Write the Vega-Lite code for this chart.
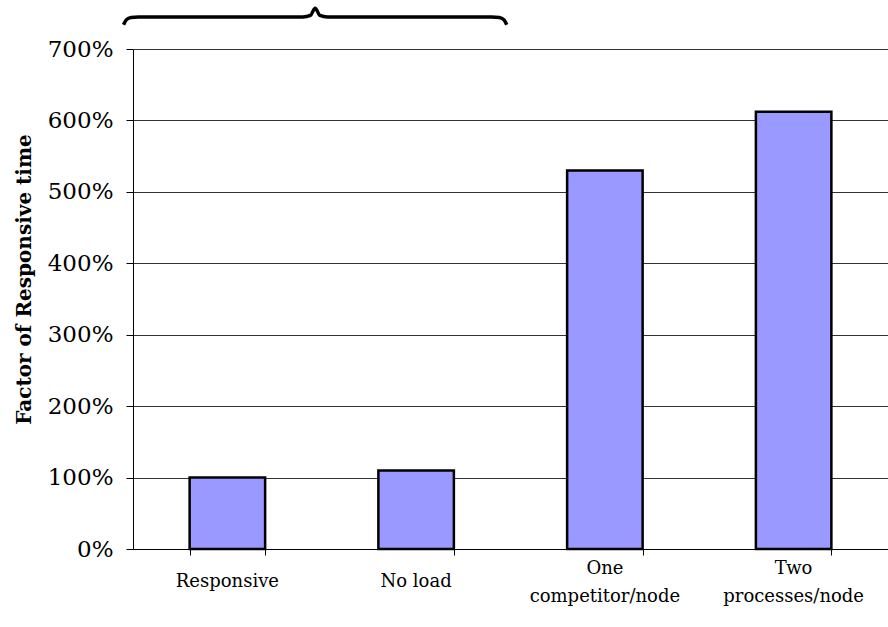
{
  "$schema": "https://vega.github.io/schema/vega-lite/v6.json",
  "autosize": "none",
  "padding": {"left": 133, "top": 49, "right": 0, "bottom": 78},
  "width": 755,
  "height": 500,
  "config": {
    "view": {"stroke": null},
    "font": "DejaVu Serif",
    "axis": {"domainColor": "#000", "tickColor": "#000", "labelColor": "#000", "titleColor": "#000"}
  },
  "datasets": {
    "timings": [
      {"category": "Responsive", "factor": 1.0},
      {"category": "No load", "factor": 1.1},
      {"category": "One competitor/node", "factor": 5.3},
      {"category": "Two processes/node", "factor": 6.12}
    ],
    "brace": [
      {"bx": -0.05, "by": 7.34},
      {"bx": -0.035, "by": 7.41},
      {"bx": -0.01, "by": 7.44},
      {"bx": 0.03, "by": 7.448},
      {"bx": 0.9, "by": 7.448},
      {"bx": 0.94, "by": 7.47},
      {"bx": 0.965, "by": 7.57},
      {"bx": 0.99, "by": 7.47},
      {"bx": 1.03, "by": 7.448},
      {"bx": 1.9, "by": 7.448},
      {"bx": 1.94, "by": 7.44},
      {"bx": 1.965, "by": 7.41},
      {"bx": 1.98, "by": 7.34}
    ]
  },
  "layer": [
    {
      "data": {"name": "timings"},
      "encoding": {
        "x": {
          "field": "category",
          "type": "nominal",
          "sort": null,
          "scale": {"paddingInner": 0.6, "paddingOuter": 0.3},
          "axis": {
            "title": null,
            "labels": false,
            "tickBand": "extent",
            "tickSize": 6
          }
        }
      },
      "layer": [
        {
          "mark": {"type": "bar", "fill": "#9999ff", "stroke": "#000", "strokeWidth": 2.5},
          "encoding": {
            "y": {
              "field": "factor",
              "type": "quantitative",
              "scale": {"domain": [0, 7], "nice": false},
              "axis": {
                "title": "Factor of Responsive time",
                "titleFontSize": 20,
                "titleFontWeight": "bold",
                "titlePadding": 13,
                "titleY": 230,
                "format": ".0%",
                "values": [0, 1, 2, 3, 4, 5, 6, 7],
                "labelFontSize": 23,
                "labelPadding": 13,
                "tickSize": 7,
                "grid": true,
                "gridColor": "#333",
                "gridWidth": 1,
                "gridOpacity": 1
              }
            }
          }
        },
        {
          "transform": [{"filter": "indexof(datum.category, 'node') < 0"}],
          "mark": {"type": "text", "fontSize": 18, "baseline": "middle", "align": "center", "color": "#000", "clip": false},
          "encoding": {
            "y": {"datum": -0.46},
            "text": {"field": "category"}
          }
        },
        {
          "transform": [{"filter": "indexof(datum.category, 'node') >= 0"}],
          "mark": {"type": "text", "fontSize": 18, "baseline": "middle", "align": "center", "color": "#000", "clip": false, "lineBreak": " ", "lineHeight": 28},
          "encoding": {
            "y": {"datum": -0.28},
            "text": {"field": "category"}
          }
        }
      ]
    },
    {
      "data": {"name": "brace"},
      "mark": {"type": "line", "color": "#000", "strokeWidth": 3.5, "interpolate": "monotone", "clip": false},
      "encoding": {
        "x": {"field": "bx", "type": "quantitative", "scale": {"domain": [0, 4], "nice": false, "zero": false}, "axis": null},
        "y": {"field": "by", "type": "quantitative"}
      }
    }
  ],
  "resolve": {"scale": {"x": "independent"}}
}
